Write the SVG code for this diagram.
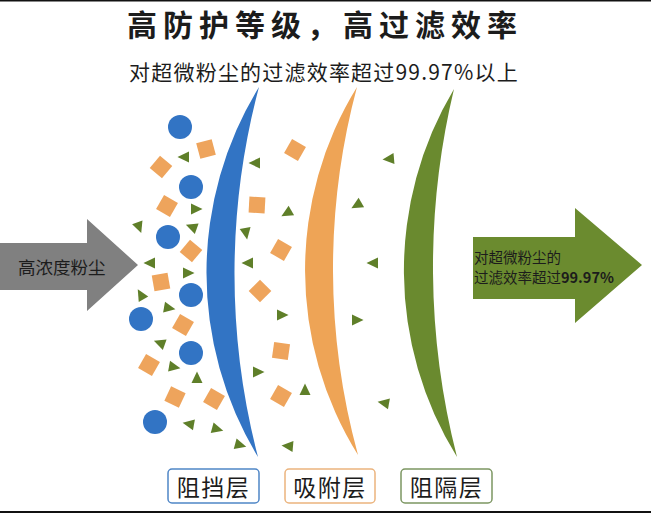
<svg xmlns="http://www.w3.org/2000/svg" xmlns:xlink="http://www.w3.org/1999/xlink" width="651" height="513" viewBox="0 0 651 513">
<style>
.cjk{font-family:"Noto Sans CJK SC","Noto Sans",sans-serif;fill:#1c1c1c}
.dot{fill:#3274c4}
.sq{fill:#eea45c}
.tri{fill:#5f7f29}
.lbl{fill:#fff;stroke-width:1.5}
</style>
<defs>
<rect id="s" x="-8" y="-8" width="16" height="16"/>
<path id="t" d="M-5,-5.5 L6.5,0 L-5,5.5 Z"/>
</defs>
<rect width="651" height="513" fill="#fff"/>
<rect x="0" y="0" width="651" height="1.5" fill="#111"/>
<rect x="0" y="511" width="651" height="2" fill="#111"/>

<g id="title">
<text class="cjk" x="325" y="36" font-size="30" font-weight="bold" letter-spacing="6" text-anchor="middle">高防护等级，高过滤效率</text>
<text class="cjk" x="324" y="80" font-size="21" letter-spacing="1.2" text-anchor="middle">对超微粉尘的过滤效率超过99.97%以上</text>
</g>

<g id="arrow-in">
<polygon points="0,243 87,243 87,219 138,265 87,311 87,290 0,290" fill="#808080"/>
<text class="cjk" x="18" y="274" font-size="17.5">高浓度粉尘</text>
</g>

<g id="arrow-out">
<polygon points="473,237 575,237 575,208 642,265 575,323 575,299 473,299" fill="#6b8b2f"/>
<text class="cjk" x="474" y="263" font-size="14.5">对超微粉尘的</text>
<text class="cjk" x="474" y="283" font-size="14.5">过滤效率超过<tspan font-weight="bold">99.97%</tspan></text>
</g>

<g id="layer-block">
<path d="M259,87 A355,355 0 0 0 258,457 A725,725 0 0 1 259,87 Z" fill="#3274c4"/>
</g>
<g id="layer-adsorb">
<path d="M357,87 A349,349 0 0 0 358,455 A703,703 0 0 1 357,87 Z" fill="#eea456"/>
</g>
<g id="layer-isolate">
<path d="M454,89 A354,354 0 0 0 457,457 A764,764 0 0 1 454,89 Z" fill="#6a8a2f"/>
</g>

<g id="particles">
<circle class="dot" cx="180" cy="127" r="12"/>
<circle class="dot" cx="191" cy="187" r="12"/>
<circle class="dot" cx="168" cy="237" r="12"/>
<circle class="dot" cx="191" cy="295" r="12"/>
<circle class="dot" cx="141" cy="319" r="12"/>
<circle class="dot" cx="191" cy="353" r="12"/>
<circle class="dot" cx="155" cy="422" r="12"/>

<use class="sq" xlink:href="#s" transform="translate(206,149) rotate(-15)"/>
<use class="sq" xlink:href="#s" transform="translate(161,167) rotate(40)"/>
<use class="sq" xlink:href="#s" transform="translate(167,206) rotate(30)"/>
<use class="sq" xlink:href="#s" transform="translate(257,205) rotate(3)"/>
<use class="sq" xlink:href="#s" transform="translate(191,251) rotate(40)"/>
<use class="sq" xlink:href="#s" transform="translate(161,282) rotate(-10)"/>
<use class="sq" xlink:href="#s" transform="translate(260,291) rotate(45)"/>
<use class="sq" xlink:href="#s" transform="translate(183,325) rotate(30)"/>
<use class="sq" xlink:href="#s" transform="translate(149,365) rotate(30)"/>
<use class="sq" xlink:href="#s" transform="translate(175,397) rotate(25)"/>
<use class="sq" xlink:href="#s" transform="translate(214,399) rotate(30)"/>
<use class="sq" xlink:href="#s" transform="translate(295,150) rotate(30)"/>
<use class="sq" xlink:href="#s" transform="translate(281,250) rotate(30)"/>
<use class="sq" xlink:href="#s" transform="translate(281,351) rotate(8)"/>
<use class="sq" xlink:href="#s" transform="translate(281,396) rotate(30)"/>

<use class="tri" xlink:href="#t" transform="translate(184,157) rotate(180)"/>
<use class="tri" xlink:href="#t" transform="translate(255,163) rotate(180)"/>
<use class="tri" xlink:href="#t" transform="translate(196,209)"/>
<use class="tri" xlink:href="#t" transform="translate(139,227) rotate(70)"/>
<use class="tri" xlink:href="#t" transform="translate(192,227) rotate(200)"/>
<use class="tri" xlink:href="#t" transform="translate(246,233) rotate(80)"/>
<use class="tri" xlink:href="#t" transform="translate(150,263) rotate(180)"/>
<use class="tri" xlink:href="#t" transform="translate(248,263) rotate(180)"/>
<use class="tri" xlink:href="#t" transform="translate(188,273)"/>
<use class="tri" xlink:href="#t" transform="translate(141,295) rotate(240)"/>
<use class="tri" xlink:href="#t" transform="translate(169,308) rotate(10)"/>
<use class="tri" xlink:href="#t" transform="translate(160,343) rotate(200)"/>
<use class="tri" xlink:href="#t" transform="translate(174,367) rotate(10)"/>
<use class="tri" xlink:href="#t" transform="translate(197,378) rotate(-90)"/>
<use class="tri" xlink:href="#t" transform="translate(258,372)"/>
<use class="tri" xlink:href="#t" transform="translate(189,424) rotate(190)"/>
<use class="tri" xlink:href="#t" transform="translate(217,429) rotate(15)"/>
<use class="tri" xlink:href="#t" transform="translate(240,445) rotate(15)"/>
<use class="tri" xlink:href="#t" transform="translate(287,213) rotate(150)"/>
<use class="tri" xlink:href="#t" transform="translate(282,315)"/>
<use class="tri" xlink:href="#t" transform="translate(305,390) rotate(-90)"/>
<use class="tri" xlink:href="#t" transform="translate(288,446) rotate(185)"/>
<use class="tri" xlink:href="#t" transform="translate(389,159) rotate(175)"/>
<use class="tri" xlink:href="#t" transform="translate(357,205) rotate(150)"/>
<use class="tri" xlink:href="#t" transform="translate(373,263) rotate(180)"/>
<use class="tri" xlink:href="#t" transform="translate(357,320)"/>
<use class="tri" xlink:href="#t" transform="translate(384,403) rotate(190)"/>
</g>

<g id="label-block">
<rect class="lbl" x="168" y="469" width="91" height="34" rx="4" stroke="#4f86c6"/>
<text class="cjk" x="213.5" y="496" font-size="23" letter-spacing="1.5" text-anchor="middle">阻挡层</text>
</g>
<g id="label-adsorb">
<rect class="lbl" x="285" y="469" width="90" height="34" rx="4" stroke="#ebb47e"/>
<text class="cjk" x="330" y="496" font-size="23" letter-spacing="1.5" text-anchor="middle">吸附层</text>
</g>
<g id="label-isolate">
<rect class="lbl" x="401" y="469" width="91" height="34" rx="4" stroke="#7c9662"/>
<text class="cjk" x="446.5" y="496" font-size="23" letter-spacing="1.5" text-anchor="middle">阻隔层</text>
</g>
</svg>
